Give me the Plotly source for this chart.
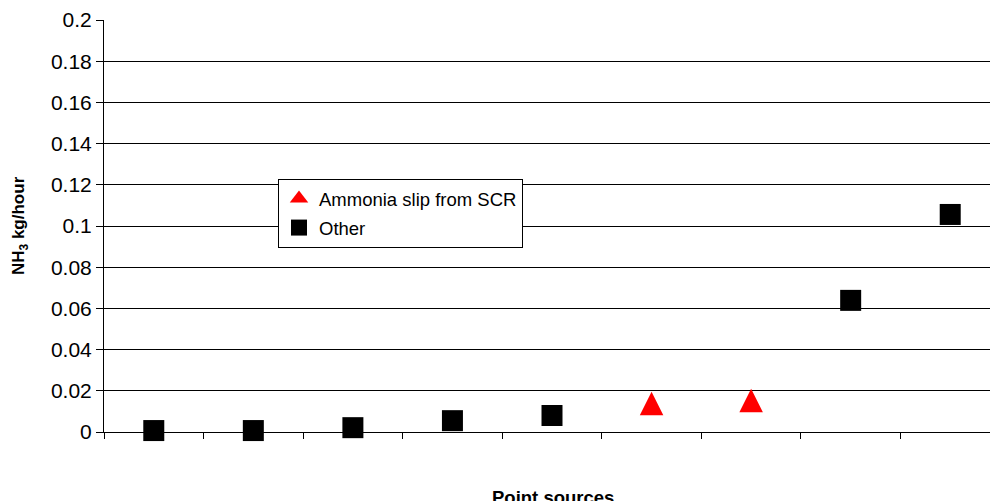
import plotly.graph_objects as go

# ---- data ----
categories = ["Source 1", "Source 2", "Source 3", "Source 4", "Source 5",
              "Source 6", "Source 7", "Source 8", "Source 9"]
other_x = ["Source 1", "Source 2", "Source 3", "Source 4", "Source 5", "Source 8", "Source 9"]
other_y = [0.0007, 0.0007, 0.0021, 0.0055, 0.0080, 0.0639, 0.1056]
scr_x = ["Source 6", "Source 7"]
scr_y = [0.0138, 0.0153]
y_tickvals = [0, 0.02, 0.04, 0.06, 0.08, 0.1, 0.12, 0.14, 0.16, 0.18, 0.2]
y_ticktext = ["0", "0.02", "0.04", "0.06", "0.08", "0.1", "0.12", "0.14", "0.16", "0.18", "0.2"]

FONT = "Arial, Liberation Sans, sans-serif"
OFF = 0   # body margin removed below, so figure coordinates = window coordinates
W, H = 1000, 501
ML, MR, MT, MB = 104, 0, 20, 69
plot_w = W - ML - MR
plot_h = H - MT - MB
y_max = 0.2
tri_size = 23.5
tri_off = (tri_size / 2) / (plot_h / y_max)   # arrow-up apex sits on point; shift axis so marker is centred


def px_x(wx):
    return (wx - OFF - ML) / plot_w


def px_y(wy):
    return (H - MB - (wy - OFF)) / plot_h


fig = go.Figure()

fig.add_trace(go.Scatter(
    x=other_x, y=other_y, mode="markers", name="Other", showlegend=False,
    marker=dict(symbol="square", size=21, color="black", line=dict(width=0)),
    cliponaxis=False,
))
fig.add_trace(go.Scatter(
    x=scr_x, y=scr_y, mode="markers", name="Ammonia slip from SCR", showlegend=False,
    marker=dict(symbol="arrow-up", size=tri_size, color="#ff0000", line=dict(width=0)),
    cliponaxis=False, yaxis="y2",
))
# legend entries
fig.add_trace(go.Scatter(
    x=[None], y=[None], mode="markers", name="Ammonia slip from SCR", legendgroup="a",
    marker=dict(symbol="triangle-up", size=16, color="#ff0000", line=dict(width=0)),
))
fig.add_trace(go.Scatter(
    x=[None], y=[None], mode="markers", name="Other", legendgroup="b",
    marker=dict(symbol="square", size=16, color="black", line=dict(width=0)),
))

fig.update_layout(
    width=W, height=H,
    margin=dict(l=ML, r=MR, t=MT, b=MB),
    paper_bgcolor="white", plot_bgcolor="white",
    font=dict(family=FONT, color="black"),
    showlegend=True,
    legend=dict(
        x=px_x(278), y=px_y(179),
        xanchor="left", yanchor="top",
        bordercolor="black", borderwidth=1, bgcolor="white",
        font=dict(size=18.5, family=FONT, color="black"),
        tracegroupgap=2,
    ),
    xaxis=dict(
        type="category", categoryorder="array", categoryarray=categories,
        range=[-0.5, 8.5],
        showticklabels=False, showgrid=False, zeroline=False,
        showline=True, linecolor="black", linewidth=1,
        ticks="outside", ticklen=6, tickcolor="black", tickson="boundaries",
    ),
    yaxis=dict(
        range=[0, y_max], tickvals=y_tickvals, ticktext=y_ticktext,
        showgrid=True, gridcolor="black", gridwidth=1, zeroline=False,
        showline=True, linecolor="black", linewidth=1,
        ticks="outside", ticklen=7, tickcolor="black",
        tickfont=dict(size=21, family=FONT, color="black"),
    ),
    yaxis2=dict(
        overlaying="y", range=[-tri_off, y_max - tri_off], visible=False,
    ),
    annotations=[
        dict(text="<b>Point sources</b>", xref="paper", yref="paper",
             x=px_x(553), y=px_y(485),
             xanchor="center", yanchor="top", showarrow=False,
             font=dict(size=18.5, family=FONT, color="black")),
        dict(text="<b>NH<sub>3</sub> kg/hour</b>", xref="paper", yref="paper",
             x=px_x(20), y=0.5, textangle=-90,
             xanchor="center", yanchor="middle", showarrow=False,
             font=dict(size=17, family=FONT, color="black")),
    ],
)

fig.write_html(
    "out.html",
    config={"displayModeBar": False},
    post_script=("document.documentElement.style.overflow='hidden';"
                 "document.body.style.overflow='hidden';"
                 "document.body.style.margin='0';"),
)
